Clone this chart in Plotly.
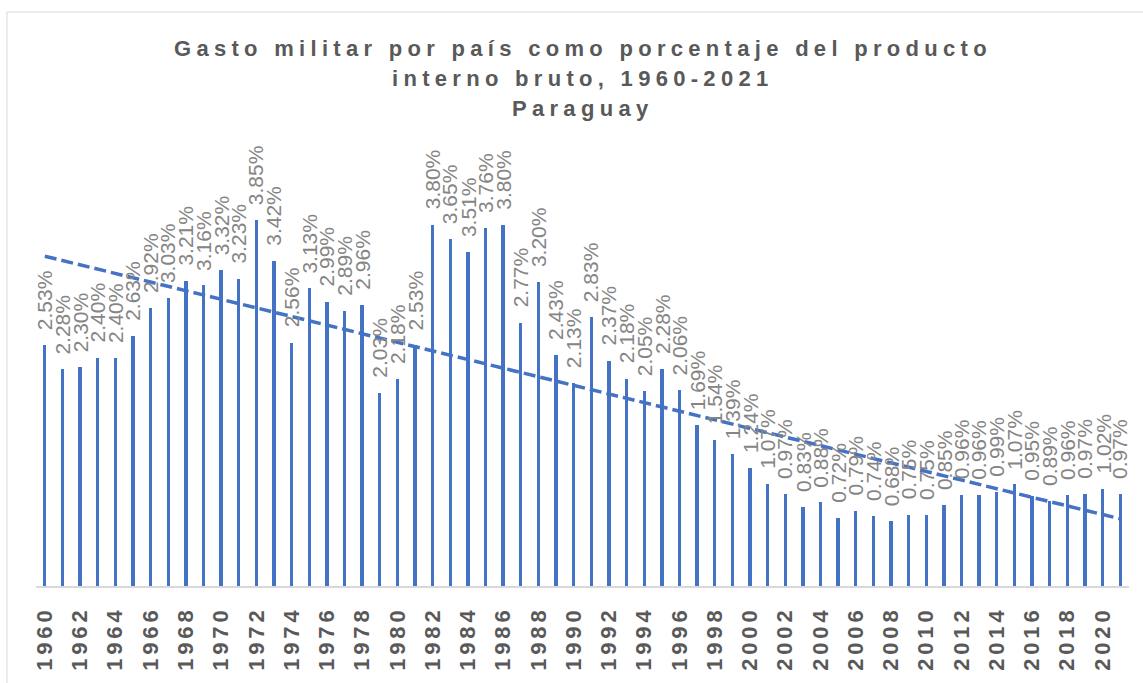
import numpy as np
import plotly.graph_objects as go

# Military expenditure, Paraguay (% of GDP)
years = list(range(1960, 2022))
gasto_pib = [
    2.53, 2.28, 2.30, 2.40, 2.40, 2.63, 2.92, 3.03, 3.21, 3.16,
    3.32, 3.23, 3.85, 3.42, 2.56, 3.13, 2.99, 2.89, 2.96, 2.03,
    2.18, 2.53, 3.80, 3.65, 3.51, 3.76, 3.80, 2.77, 3.20, 2.43,
    2.13, 2.83, 2.37, 2.18, 2.05, 2.28, 2.06, 1.69, 1.54, 1.39,
    1.24, 1.07, 0.97, 0.83, 0.88, 0.72, 0.79, 0.74, 0.68, 0.75,
    0.75, 0.85, 0.96, 0.96, 0.99, 1.07, 0.95, 0.89, 0.96, 0.97,
    1.02, 0.97,
]
tick_years = list(range(1960, 2021, 2))
title_lines = [
    "Gasto militar por país como porcentaje del producto",
    "interno bruto, 1960-2021",
    "Paraguay",
]

BLUE = "#4472C4"
W, H = 1143, 683
L, R, T, B = 36, 14, 140, 97
plot_w = W - L - R
plot_h = H - T - B

# least-squares linear trend over the series
coef = np.polyfit(years, gasto_pib, 1)
trend = np.polyval(coef, years)

fig = go.Figure()
fig.add_trace(go.Bar(
    x=years, y=gasto_pib, width=0.19,
    marker=dict(color=BLUE, line=dict(width=0)),
    hoverinfo="x+y",
))
fig.add_trace(go.Scatter(
    x=years, y=trend, mode="lines",
    line=dict(color=BLUE, width=3.5, dash="12px,5px"),
    hoverinfo="skip",
))

annotations = []
for yr, v in zip(years, gasto_pib):
    annotations.append(dict(
        x=yr, y=v, xref="x", yref="y",
        text=f"{v:.2f}%", showarrow=False, textangle=-90,
        xanchor="center", yanchor="bottom", yshift=13,
        font=dict(family="Liberation Sans Narrow, Arial Narrow, Liberation Sans",
                  size=21, color="#858585"),
    ))


def py2paper(py):
    return (H - B - py) / plot_h


def px2paper(px):
    return (px - L) / plot_w


for line, mid_y in zip(title_lines, [49, 79, 108]):
    annotations.append(dict(
        x=0.5, y=py2paper(mid_y), xref="paper", yref="paper",
        text=f'<b><span style="letter-spacing:5.3px">{line}</span></b>',
        showarrow=False, xanchor="center", yanchor="middle",
        font=dict(family="Liberation Sans, Arial", size=22, color="#595959"),
    ))

fig.update_layout(
    width=W, height=H,
    margin=dict(l=L, r=R, t=T, b=B, autoexpand=False),
    paper_bgcolor="white", plot_bgcolor="white",
    showlegend=False,
    bargap=0,
    annotations=annotations,
    shapes=[dict(
        type="rect", xref="paper", yref="paper",
        x0=px2paper(7), x1=px2paper(1160), y0=py2paper(700), y1=py2paper(12),
        line=dict(color="#d9d9d9", width=1), fillcolor="rgba(0,0,0,0)",
        layer="below",
    )],
    xaxis=dict(
        range=[1959.5, 2021.5],
        tickmode="array", tickvals=tick_years,
        ticktext=[f'<span style="letter-spacing:3.8px">{y}</span>' for y in tick_years],
        tickangle=-90, ticks="", ticklabelstandoff=10,
        tickfont=dict(family="Liberation Sans, Arial", size=22, color="#595959", weight="bold"),
        showgrid=False, zeroline=False,
        showline=True, linecolor="#d9d9d9", linewidth=1.5,
    ),
    yaxis=dict(
        range=[0, plot_h / 95.1],
        visible=False, showgrid=False, zeroline=False,
    ),
)

fig.write_html("out.html")
